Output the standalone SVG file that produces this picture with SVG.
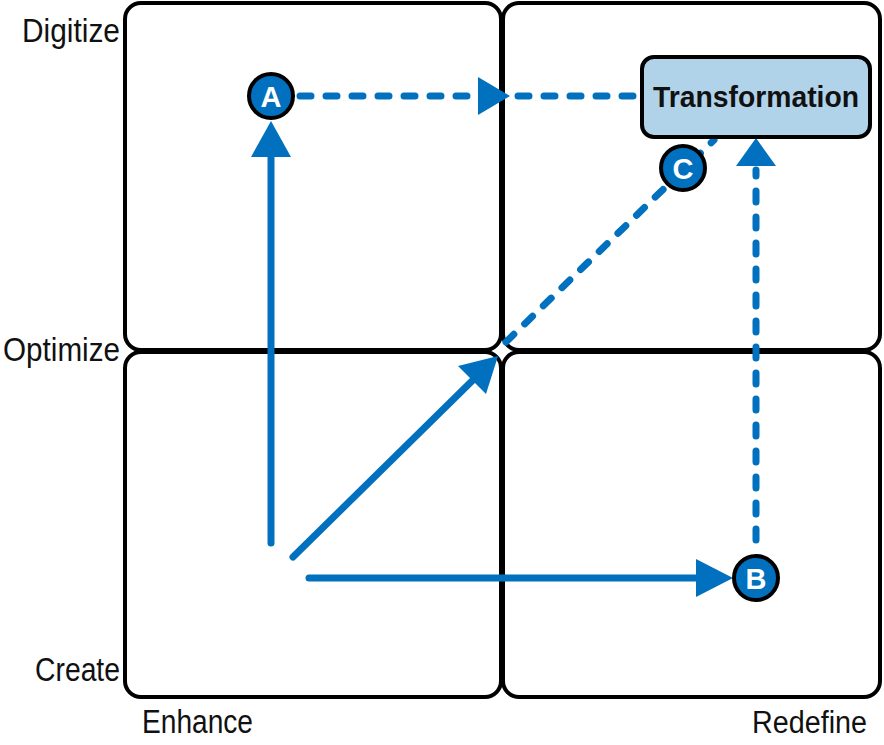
<svg xmlns="http://www.w3.org/2000/svg" width="884" height="745" viewBox="0 0 884 745">
<defs>
<style>
.q{fill:#fff;stroke:#000;stroke-width:4}
.lbl{font-family:"Liberation Sans",Arial,sans-serif;font-size:34px;fill:#111}
.s{stroke:#0070bf;stroke-width:7;fill:none;stroke-linecap:round}
.d{stroke:#0070bf;stroke-width:7;fill:none;stroke-linecap:round;stroke-dasharray:11 15}
.ah{fill:#0070bf}
.node circle{fill:#0070bf;stroke:#000;stroke-width:4}
.node text{font-family:"Liberation Sans",Arial,sans-serif;font-size:29px;font-weight:bold;fill:#fff;text-anchor:middle}
</style>
</defs>
<g id="quadrants">
<rect class="q" x="125" y="3" width="376" height="347" rx="16"/>
<rect class="q" x="503" y="3" width="377" height="347" rx="16"/>
<rect class="q" x="125" y="352" width="376" height="345" rx="16"/>
<rect class="q" x="503" y="352" width="377" height="345" rx="16"/>
</g>
<g id="axis-labels">
<text class="lbl" x="120" y="42" text-anchor="end" textLength="98" lengthAdjust="spacingAndGlyphs">Digitize</text>
<text class="lbl" x="120" y="361" text-anchor="end" textLength="117" lengthAdjust="spacingAndGlyphs">Optimize</text>
<text class="lbl" x="120" y="681" text-anchor="end" textLength="85" lengthAdjust="spacingAndGlyphs">Create</text>
<text class="lbl" x="142" y="733" textLength="111" lengthAdjust="spacingAndGlyphs">Enhance</text>
<text class="lbl" x="752" y="733" font-size="31" textLength="115" lengthAdjust="spacingAndGlyphs" style="font-size:31px">Redefine</text>
</g>
<g id="connectors">
<line class="d" x1="300" y1="96" x2="480" y2="96"/>
<polygon class="ah" points="478,77 510,96 478,115"/>
<line class="d" x1="518" y1="96" x2="640" y2="96"/>
<line class="s" x1="271" y1="543" x2="271" y2="158"/>
<polygon class="ah" points="251,157 271,121 291,157"/>
<line class="s" x1="293" y1="557" x2="473" y2="380"/>
<polygon class="ah" points="458,366 498,356 486,394"/>
<line class="s" x1="309" y1="578" x2="698" y2="578"/>
<polygon class="ah" points="696,559 733,578 696,597"/>
<line class="d" x1="756" y1="540" x2="756" y2="170"/>
<polygon class="ah" points="736,166 756,138 776,166"/>
<line class="d" x1="506" y1="342" x2="714" y2="140"/>
</g>
<g id="node-transformation">
<rect x="642" y="57" width="228" height="80" rx="12" fill="#b0d3ea" stroke="#000" stroke-width="4"/>
<text x="756" y="107" text-anchor="middle" font-family="'Liberation Sans',Arial,sans-serif" font-size="30" font-weight="bold" fill="#111" textLength="206" lengthAdjust="spacingAndGlyphs">Transformation</text>
</g>
<g id="node-a" class="node">
<circle cx="271" cy="96" r="22"/>
<text x="271" y="107">A</text>
</g>
<g id="node-b" class="node">
<circle cx="756" cy="578" r="22"/>
<text x="756" y="589">B</text>
</g>
<g id="node-c" class="node">
<circle cx="683" cy="168" r="22"/>
<text x="683" y="179">C</text>
</g>
</svg>
